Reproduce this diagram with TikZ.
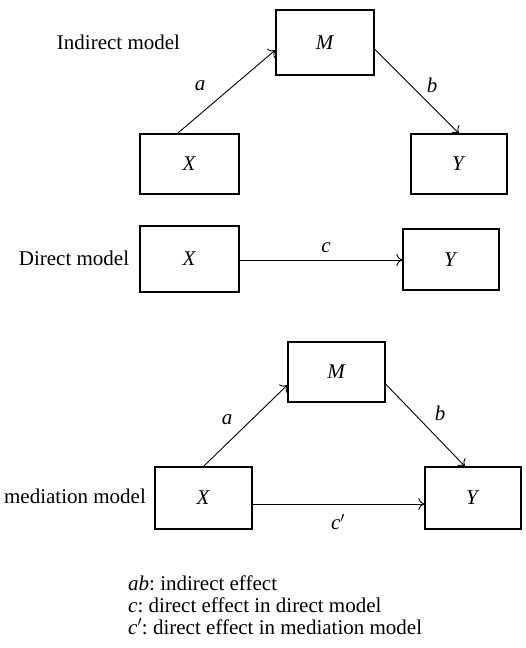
\documentclass[tikz,border=0pt]{standalone}
\usepackage{fontspec}
\setmainfont{Liberation Serif}
\usetikzlibrary{arrows.meta,calc}
\begin{document}
\frenchspacing
\begin{tikzpicture}[x=1pt,y=-1pt,
  font=\fontsize{21}{25}\selectfont,
  box/.style={draw,line width=1.2pt,inner sep=0pt},
  conn/.style={line width=0.9pt,-{To[length=6pt,width=12pt]}},
  lbl/.style={inner sep=0pt,font=\fontsize{21}{25}\selectfont\itshape}]
\useasboundingbox (0,0) rectangle (525,648);
% Indirect model
\node (tI) at (118.5,42) {Indirect model};
\node[box,minimum width=98pt,minimum height=65pt] (iM) at (325,42.5) {\textit{M}};
\node[box,minimum width=99pt,minimum height=60pt] (iX) at (189.5,164) {\textit{X}};
\node[box,minimum width=96pt,minimum height=60pt] (iY) at (459,164) {\textit{Y}};
\draw[conn] ($(iX.north west)!0.38!(iX.north east)$) -- ($(iM.west)+(0,7.5)$);
\draw[conn] ($(iM.east)+(0,6.5)$) -- (iY.north);
\node[lbl] (la1) at (200,86) {a};
\node[lbl] (lb1) at (432,85) {b};
% Direct model
\node (tD) at (74,258) {Direct model};
\node[box,minimum width=99pt,minimum height=66pt] (dX) at (189.5,259) {\textit{X}};
\node[box,minimum width=96pt,minimum height=61pt] (dY) at (451,259.5) {\textit{Y}};
\draw[conn] ($(dX.east)+(0,1)$) -- ($(dY.west)+(0,0.5)$);
\node[lbl] (lc) at (326,248) {c};
% Mediation model
\node (tM) at (75,496) {mediation model};
\node[box,minimum width=97pt,minimum height=60pt] (mM) at (336.5,372) {\textit{M}};
\node[box,minimum width=97pt,minimum height=62pt] (mX) at (203.5,498) {\textit{X}};
\node[box,minimum width=96pt,minimum height=62pt] (mY) at (473,498) {\textit{Y}};
\draw[conn] (mX.north) -- ($(mM.west)+(0,13)$);
\draw[conn] ($(mM.east)+(0,12)$) -- ($(mY.north)+(-8,0)$);
\draw[conn] ($(mX.east)+(0,6)$) -- ($(mY.west)+(0,6)$);
\node[lbl] (la2) at (227,420) {a};
\node[lbl] (lb2) at (440,413) {b};
\node[inner sep=0pt] (lc2) at (338,522) {\textit{c}$'$};
% Legend
\node[anchor=base west,inner sep=0pt] (L1) at (128,590) {\textit{ab}: indirect effect};
\node[anchor=base west,inner sep=0pt] (L2) at (128,612) {\textit{c}: direct effect in direct model};
\node[anchor=base west,inner sep=0pt] (L3) at (128,634) {\textit{c}$'$: direct effect in mediation model};
\end{tikzpicture}
\end{document}
